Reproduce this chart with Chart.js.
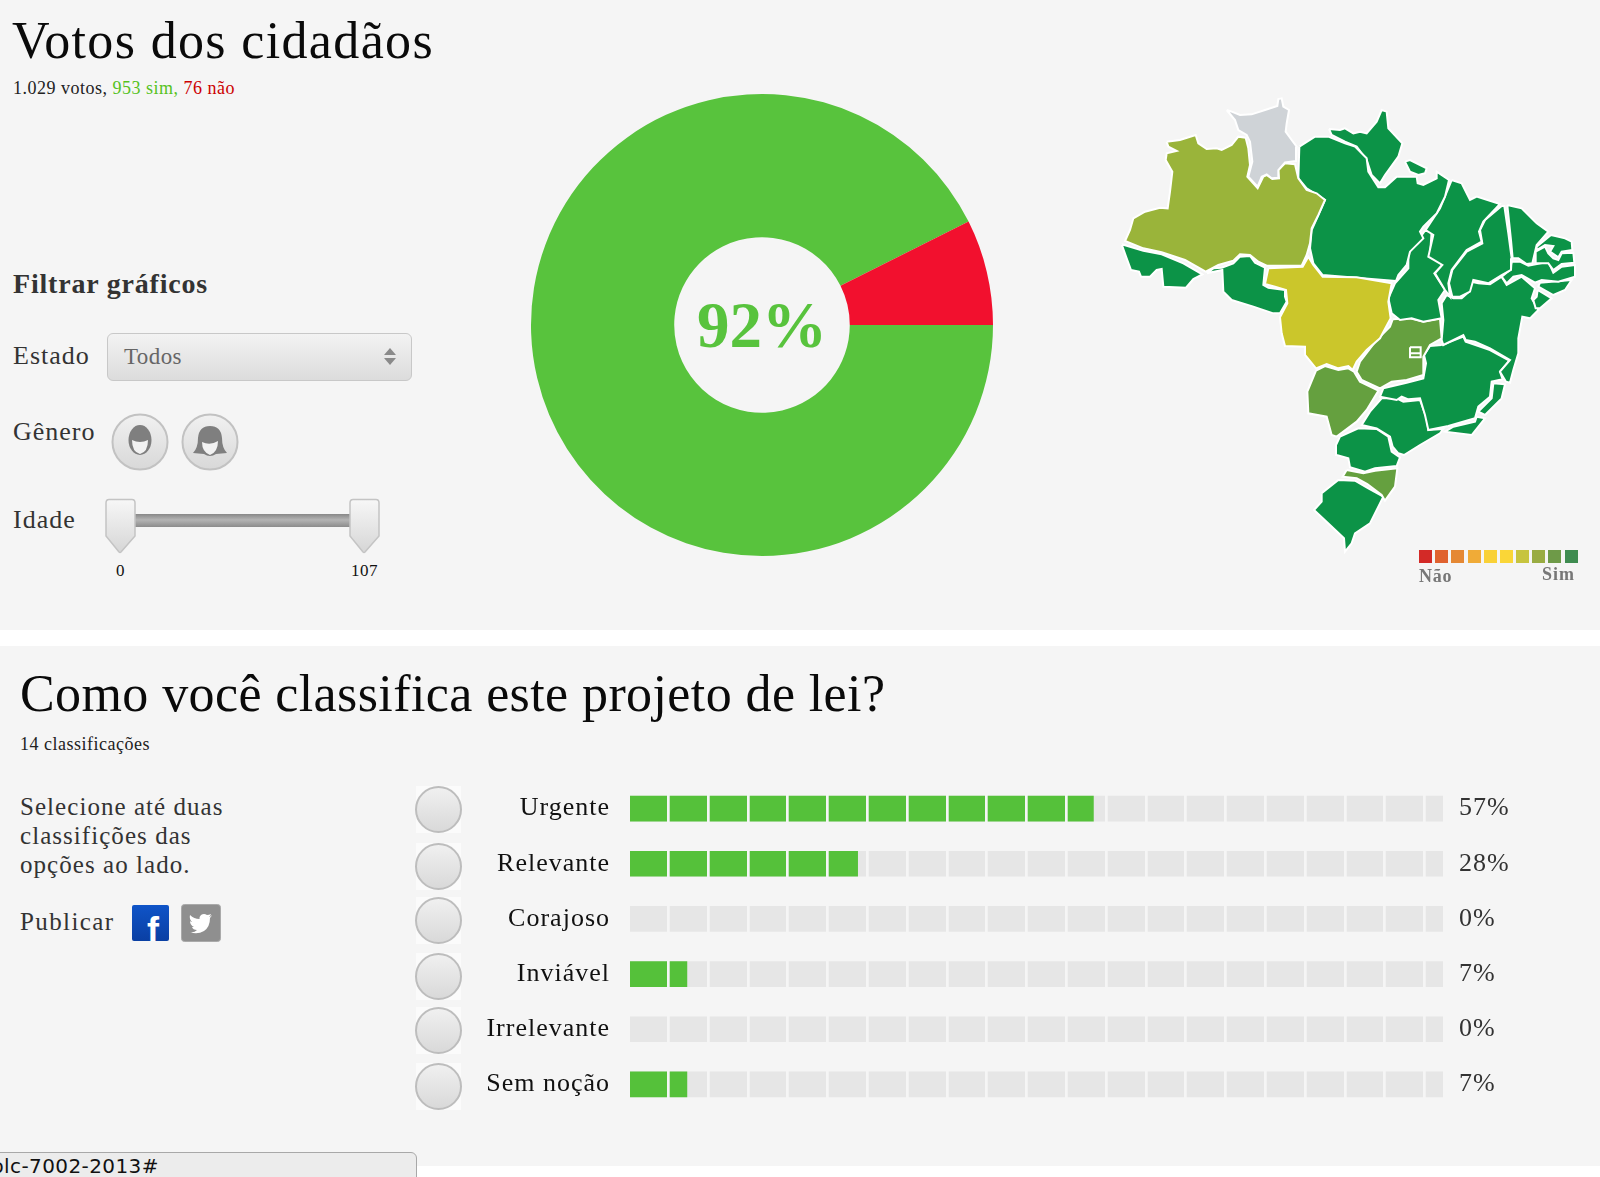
<!DOCTYPE html>
<html lang="pt">
<head>
<meta charset="utf-8">
<title>Votos dos cidadãos</title>
<script src="https://cdn.jsdelivr.net/npm/chart.js@4"></script>
<style>
  html, body { margin: 0; padding: 0; background: #fff; }
  body { width: 1600px; height: 1177px; position: relative; overflow: hidden; font-family: "Liberation Serif", serif; color: #111; }
  .panel { position: absolute; left: 0; width: 1600px; background: #f5f5f5; }
  .t { position: absolute; line-height: 1; white-space: nowrap; }
  canvas { position: absolute; }
  .radio-box { position: absolute; left: 416px; width: 45px; height: 47px; background: #fbfbfb; }
  .radio { position: absolute; left: 415px; width: 43px; height: 43px; border-radius: 50%; border: 2px solid #bdbdbd; background: linear-gradient(#f0f0f0, #d9d9d9); }
  .swatch { position: absolute; top: 550px; width: 13px; height: 13px; }
</style>
</head>
<body>
<div class="panel" style="top:0;height:630px"></div>
<div class="panel" style="top:646px;height:520px"></div>

<div class="t" style="left:12px;top:15px;font-size:52px;letter-spacing:1.35px;color:#0a0a0a">Votos dos cidadãos</div>
<div class="t" style="left:13px;top:79px;font-size:18px;letter-spacing:.5px;color:#222">1.029 votos, <span style="color:#55c21d">953 sim,</span> <span style="color:#cc0000">76 não</span></div>

<div class="t" style="left:13px;top:270px;font-size:28px;font-weight:bold;letter-spacing:.8px;color:#333">Filtrar gráficos</div>

<div class="t" style="left:13px;top:343px;font-size:26px;letter-spacing:1px;color:#333">Estado</div>
<div style="position:absolute;left:107px;top:333px;width:303px;height:46px;border:1px solid #c8c8c8;border-radius:6px;background:linear-gradient(#f3f3f3,#dcdcdc)"></div>
<div class="t" style="left:124px;top:345px;font-size:23px;letter-spacing:.4px;color:#666">Todos</div>
<div style="position:absolute;left:384px;top:348px;border:6px solid transparent;border-top:0;border-bottom:7px solid #8a8a8a"></div>
<div style="position:absolute;left:384px;top:358px;border:6px solid transparent;border-bottom:0;border-top:7px solid #8a8a8a"></div>

<div class="t" style="left:13px;top:419px;font-size:26px;letter-spacing:1px;color:#333">Gênero</div>
<svg style="position:absolute;left:110px;top:412px" width="132" height="60" viewBox="0 0 132 60">
  <defs><linearGradient id="btn" x1="0" y1="0" x2="0" y2="1"><stop offset="0" stop-color="#f1f1f1"/><stop offset="1" stop-color="#d8d8d8"/></linearGradient></defs>
  <circle cx="30" cy="30" r="27.5" fill="url(#btn)" stroke="#c2c2c2" stroke-width="2"/>
  <circle cx="100" cy="30" r="27.5" fill="url(#btn)" stroke="#c2c2c2" stroke-width="2"/>
  <ellipse cx="30" cy="28" rx="11.500" ry="15" fill="#7f7f7f"/>
  <path d="M22 28 Q30 32 38 28 Q38 40 30 42 Q22 40 22 28Z" fill="#f2f2f2"/>
  <path d="M83 41 Q88 36 88 26 Q89 14 100 14 Q111 14 112 26 Q112 36 117 41 L106 42 Q100 46 94 42Z" fill="#7f7f7f"/>
  <path d="M92 30 Q100 34 108 29 Q108 40 100 43 Q92 40 92 30Z" fill="#f2f2f2"/>
</svg>

<div class="t" style="left:13px;top:507px;font-size:26px;letter-spacing:1px;color:#333">Idade</div>
<div style="position:absolute;left:134px;top:514px;width:218px;height:13px;background:linear-gradient(#888,#b4b4b4 45%,#8c8c8c)"></div>
<svg style="position:absolute;left:104px;top:498px" width="280" height="57" viewBox="0 0 280 57">
  <defs><linearGradient id="hnd" x1="0" y1="0" x2="0" y2="1"><stop offset="0" stop-color="#f7f7f7"/><stop offset="1" stop-color="#d6d6d6"/></linearGradient></defs>
  <path d="M5 1.5 H28 Q31 1.5 31 5 V38 L17 54 Q16 55 15 54 L2 38 V5 Q2 1.5 5 1.5Z" fill="url(#hnd)" stroke="#c4c4c4" stroke-width="1.5"/>
  <path d="M249 1.5 H272 Q275 1.5 275 5 V38 L261 54 Q260 55 259 54 L246 38 V5 Q246 1.5 249 1.5Z" fill="url(#hnd)" stroke="#c4c4c4" stroke-width="1.5"/>
</svg>
<div class="t" style="left:116px;top:562px;font-size:17px;letter-spacing:.5px;color:#111">0</div>
<div class="t" style="left:351px;top:562px;font-size:17px;letter-spacing:.5px;color:#111">107</div>

<div class="t" style="left:20px;top:668px;font-size:52px;letter-spacing:.4px;color:#0a0a0a">Como você classifica este projeto de lei?</div>
<div class="t" style="left:20px;top:735px;font-size:18px;letter-spacing:.5px;color:#222">14 classificações</div>
<div class="t" style="left:20px;top:794px;font-size:25px;letter-spacing:1.05px;color:#333">Selecione até duas</div>
<div class="t" style="left:20px;top:823px;font-size:25px;letter-spacing:1.05px;color:#333">classifições das</div>
<div class="t" style="left:20px;top:852px;font-size:25px;letter-spacing:1.05px;color:#333">opções ao lado.</div>
<div class="t" style="left:20px;top:909px;font-size:25px;letter-spacing:1.4px;color:#333">Publicar</div>
<div style="position:absolute;left:132px;top:905px;width:37px;height:36px;border-radius:2px;background:linear-gradient(#0f54c8,#0a3fa3);overflow:hidden">
  <div class="t" style="left:15px;top:8px;font-family:'Liberation Sans',sans-serif;font-size:36px;font-weight:bold;color:#fff">f</div>
</div>
<svg style="position:absolute;left:181px;top:904px" width="40" height="38" viewBox="0 0 40 38">
  <rect x=".5" y=".5" width="39" height="37" rx="3" fill="#8f8f8f" stroke="#aaa"/>
  <path d="M31 11 Q29 13 28 13 Q30 11 30 10 Q28 11 26 11 Q23 9 20 11 Q18 13 18.500 15 Q13 15 9 11 Q8 15 11 18 Q10 18 9 17 Q9 21 13 23 L11 23 Q12 26 16 26 Q13 29 9 28 Q16 31 23 27 Q29 23 29 14 Q30 13 31 11Z" fill="#fff"/>
</svg>

<div id="radios"></div>
<canvas id="pieCanvas"></canvas>
<canvas id="mapCanvas"></canvas>
<canvas id="barCanvas"></canvas>
<div id="mapLegend"></div>
<div class="t" style="left:1419px;top:567px;font-size:18px;font-weight:bold;letter-spacing:.8px;color:#777">Não</div>
<div class="t" style="left:1542px;top:565px;font-size:18px;font-weight:bold;letter-spacing:1px;color:#777">Sim</div>

<div style="position:absolute;left:-11px;top:1152px;width:426px;height:40px;border:1px solid #a8a8a8;border-radius:6px;background:#ececec;overflow:hidden">
  <div class="t" style="left:1px;top:3px;font-family:'DejaVu Sans',sans-serif;font-size:20px;letter-spacing:.4px;color:#111">plc-7002-2013#</div>
</div>

<script>
// votos
const voteLabels = ["Sim", "Não"];
const voteValues = [953, 76];
const voteColors = ["#58c33d", "#f2102e"];
const centerText = "92%";

// classificacoes
const classLabels = ["Urgente", "Relevante", "Corajoso", "Inviável", "Irrelevante", "Sem noção"];
const classValues = [57, 28, 0, 7, 0, 7];
const trackValues = [100, 100, 100, 100, 100, 100];
const radioCenters = [809, 866, 920, 976, 1030, 1086];

// mapa: contornos dos estados
const scale10 = ["#d32a27", "#e0622f", "#e58834", "#f0ab37", "#f9d137", "#fad637", "#c7c43e", "#99ac42", "#6e9a48", "#3f8c50"];
const strong = "#0c9347", olive = "#9ab43a", midGreen = "#65a03f", yellow = "#cbc62b", noData = "#cfd3d7";

const df = [[930,802],[962,802],[962,820],[930,820],[930,832],[962,832],[962,820],[930,820]];
const roraima = [[380,90],[395,95],[420,105],[455,103],[495,90],[532,78],[535,57],[545,55],[550,80],[567,90],[560,130],[557,155],[575,180],[590,200],[588,243],[555,247],[535,270],[535,293],[515,295],[500,283],[485,290],[473,320],[445,290],[457,245],[450,185],[440,165],[415,150],[405,120]];
const amazonas = [[200,185],[240,180],[287,165],[295,190],[320,207],[350,205],[365,210],[395,195],[415,170],[437,173],[445,205],[450,255],[442,290],[473,325],[490,290],[500,285],[517,297],[537,295],[535,270],[555,250],[585,253],[595,295],[620,330],[650,340],[675,360],[655,405],[635,445],[630,490],[620,525],[605,557],[500,557],[475,545],[450,525],[420,523],[400,542],[355,555],[317,575],[255,540],[185,517],[130,505],[75,483],[90,450],[100,415],[135,395],[180,383],[203,385],[210,335],[217,275],[197,240],[200,220],[230,213],[205,200]];
const acre = [[65,493],[130,512],[185,523],[250,550],[307,583],[280,597],[258,623],[190,620],[185,567],[170,570],[150,590],[123,590],[117,575],[93,570],[80,535]];
const rondonia = [[320,580],[340,565],[365,563],[400,550],[420,530],[450,528],[465,548],[495,563],[490,615],[505,623],[555,630],[555,650],[560,665],[540,700],[520,700],[460,680],[395,660],[370,635],[367,570]];
const matoGrosso = [[505,565],[608,560],[625,530],[640,555],[668,590],[770,592],[875,610],[865,665],[872,715],[840,775],[800,810],[770,845],[758,870],[745,858],[715,865],[680,852],[648,865],[615,825],[615,800],[555,798],[545,760],[540,712],[562,670],[558,630],[525,620],[495,612]];
const para = [[598,200],[645,170],[685,170],[735,190],[765,200],[800,235],[805,275],[835,322],[855,322],[890,290],[950,290],[953,310],[970,315],[1010,295],[1010,275],[1047,300],[1035,350],[1010,400],[970,440],[960,455],[970,475],[930,515],[920,555],[895,585],[888,603],[668,585],[640,550],[630,505],[635,450],[675,360],[620,325],[595,295]];
const amapa = [[687,147],[720,150],[735,145],[760,160],[780,155],[800,160],[830,125],[845,90],[860,95],[865,145],[907,190],[895,230],[855,285],[840,310],[815,285],[800,240],[770,200],[735,185],[695,165]];
const marajo = [[915,245],[930,240],[980,265],[975,280],[955,285],[930,275]];
const maranhao = [[1055,300],[1085,310],[1100,340],[1110,360],[1130,350],[1200,372],[1150,425],[1137,455],[1145,485],[1100,510],[1055,570],[1045,610],[1050,650],[1035,630],[1005,580],[1027,555],[985,530],[1000,465],[977,450],[1020,385]];
const piaui = [[1205,378],[1213,378],[1225,460],[1235,535],[1233,570],[1205,585],[1165,610],[1120,600],[1110,635],[1080,650],[1057,650],[1047,610],[1057,570],[1100,515],[1147,490],[1140,450],[1155,420]];
const ceara = [[1222,375],[1265,385],[1310,430],[1345,455],[1310,495],[1297,550],[1280,552],[1255,535],[1238,535],[1233,480]];
const rioGrandeNorte = [[1353,465],[1395,475],[1415,485],[1417,510],[1385,515],[1375,532],[1350,515],[1360,498],[1335,495],[1310,510],[1310,500]];
const paraiba = [[1307,515],[1335,500],[1345,520],[1360,535],[1375,540],[1385,520],[1420,518],[1423,548],[1385,552],[1360,570],[1345,550],[1305,550]];
const pernambuco = [[1235,545],[1260,545],[1285,557],[1345,545],[1360,578],[1385,560],[1425,555],[1425,590],[1375,605],[1325,600],[1305,608],[1265,585],[1240,590],[1220,610],[1205,590],[1230,570]];
const alagoas = [[1320,608],[1415,600],[1395,630],[1360,645],[1315,620]];
const sergipe = [[1313,630],[1355,655],[1320,685],[1307,685],[1300,660],[1310,650]];
const bahia = [[1040,645],[1060,655],[1085,655],[1107,635],[1115,605],[1135,610],[1170,613],[1205,590],[1220,615],[1265,590],[1305,625],[1295,655],[1315,690],[1290,715],[1267,710],[1255,775],[1255,820],[1240,870],[1230,908],[1218,905],[1200,875],[1230,840],[1170,805],[1125,785],[1097,780],[1090,765],[1030,795],[1025,780],[1030,720],[1025,670]];
const tocantins = [[975,452],[995,455],[990,525],[1030,552],[1003,580],[1035,630],[1015,660],[1025,715],[970,725],[935,715],[900,720],[875,700],[865,655],[885,610],[925,565],[925,520]];
const goias = [[878,718],[930,715],[970,725],[1020,715],[1025,775],[990,795],[970,830],[970,885],[920,900],[875,905],[840,925],[785,900],[770,875],[780,845],[830,780],[870,740]];
const matoGrossoSul = [[648,872],[675,858],[715,870],[745,865],[762,875],[780,905],[835,932],[800,990],[770,1025],[710,1070],[695,1065],[680,1010],[625,1000],[622,935]];
const minas = [[1025,795],[1090,770],[1097,785],[1170,810],[1228,842],[1200,875],[1208,898],[1175,905],[1170,950],[1135,980],[1125,1015],[1045,1038],[985,1050],[975,1005],[960,955],[925,958],[905,950],[890,960],[840,950],[850,925],[920,908],[970,895],[978,850],[972,825],[990,798]];
const espiritoSanto = [[1180,910],[1215,913],[1205,955],[1155,1005],[1135,995],[1175,955]];
const rio = [[1130,1010],[1155,1015],[1115,1065],[1035,1055],[1060,1040],[1125,1025]];
const saoPaulo = [[845,955],[890,955],[910,965],[960,960],[980,1015],[985,1050],[1030,1047],[1020,1060],[960,1095],[912,1125],[895,1120],[878,1100],[870,1070],[830,1045],[785,1035],[810,995]];
const parana = [[720,1070],[775,1045],[830,1047],[865,1070],[875,1115],[900,1132],[890,1158],[825,1165],[795,1175],[750,1162],[745,1135],[710,1125],[708,1095]];
const santaCatarina = [[740,1170],[790,1180],[825,1172],[892,1165],[885,1220],[855,1262],[845,1245],[802,1212],[770,1195],[728,1190]];
const rioGrandeSul = [[665,1240],[715,1200],[765,1202],[805,1225],[850,1250],[835,1280],[810,1330],[765,1360],[755,1390],[735,1415],[732,1375],[690,1335],[642,1290],[665,1265]];

const mapStates = [
  [df, midGreen], [roraima, noData], [amazonas, olive], [acre, strong], [rondonia, strong],
  [matoGrosso, yellow], [para, strong], [amapa, strong], [marajo, strong], [maranhao, strong],
  [piaui, strong], [ceara, strong], [rioGrandeNorte, strong], [paraiba, strong], [pernambuco, strong],
  [alagoas, strong], [sergipe, strong], [bahia, strong], [tocantins, strong], [goias, midGreen],
  [matoGrossoSul, midGreen], [minas, strong], [espiritoSanto, strong], [rio, strong], [saoPaulo, strong],
  [parana, strong], [santaCatarina, midGreen], [rioGrandeSul, strong]
];

function sizeCanvas(id, left, top, w, h) {
  const c = document.getElementById(id);
  c.style.left = left + "px";
  c.style.top = top + "px";
  c.width = w;
  c.height = h;
  return c;
}

const centerLabel = {
  id: "centerLabel",
  afterDraw(chart) {
    const arc = chart.getDatasetMeta(0).data[0];
    const ctx = chart.ctx;
    ctx.save();
    ctx.font = "bold 65px 'Liberation Serif'";
    ctx.fillStyle = voteColors[0];
    ctx.textAlign = "center";
    ctx.textBaseline = "alphabetic";
    ctx.fillText(centerText, arc.x, arc.y + 22);
    ctx.restore();
  }
};

new Chart(sizeCanvas("pieCanvas", 522, 85, 480, 480), {
  type: "doughnut",
  data: {
    labels: voteLabels,
    datasets: [{ data: voteValues, backgroundColor: voteColors, borderWidth: 0 }]
  },
  options: {
    responsive: false,
    animation: false,
    rotation: 90,
    radius: 231,
    cutout: "38%",
    plugins: { legend: { display: false }, tooltip: { enabled: false } }
  },
  plugins: [centerLabel]
});

new Chart(sizeCanvas("mapCanvas", 1100, 80, 500, 530), {
  type: "scatter",
  data: {
    datasets: mapStates.map(([outline, color]) => ({
      data: outline.concat([outline[0]]).map(([x, y]) => ({ x, y })),
      showLine: true,
      tension: 0,
      fill: "shape",
      backgroundColor: color,
      borderColor: "#ffffff",
      borderWidth: 2,
      pointRadius: 0
    }))
  },
  options: {
    responsive: false,
    animation: false,
    layout: { padding: 0 },
    scales: {
      x: { type: "linear", min: 0, max: 1500, display: false },
      y: { type: "linear", min: 0, max: 1590, reverse: true, display: false }
    },
    plugins: { legend: { display: false }, tooltip: { enabled: false } }
  }
});

// grid lines on top of the bars cut them into blocks
const blockGaps = [];
for (let v = 4.72; v < 100; v += 4.895) blockGaps.push(v);

const labelSpacing = {
  id: "labelSpacing",
  beforeDraw(chart) { chart.ctx.letterSpacing = "1px"; }
};

function fixSideAxis(axis, width) {
  axis.width = width;
  axis.paddingTop = 0;
  axis.paddingBottom = 0;
}

new Chart(sizeCanvas("barCanvas", 470, 781, 1130, 331), {
  type: "bar",
  data: {
    labels: classLabels,
    datasets: [
      {
        data: classValues,
        backgroundColor: ctx => ctx.raw > 0 ? "#55c13a" : "transparent",
        grouped: false,
        barThickness: 25
      },
      { data: trackValues, backgroundColor: "#e6e6e6", grouped: false, barThickness: 25 }
    ]
  },
  options: {
    indexAxis: "y",
    responsive: false,
    animation: false,
    layout: { padding: 0 },
    scales: {
      x: {
        type: "linear",
        min: 0,
        max: 100,
        afterBuildTicks(axis) { axis.ticks = blockGaps.map(value => ({ value })); },
        ticks: { display: false },
        border: { display: false },
        grid: { z: 1, color: "#f5f5f5", lineWidth: 2.7, drawTicks: false }
      },
      y: {
        afterFit(axis) { fixSideAxis(axis, 160); },
        ticks: { padding: 20, color: "#111", font: { family: "'Liberation Serif'", size: 26 } },
        border: { display: false },
        grid: { display: false, drawTicks: false }
      },
      y2: {
        type: "category",
        position: "right",
        labels: classValues.map(v => v + "%"),
        offset: true,
        afterFit(axis) { fixSideAxis(axis, 157); },
        ticks: { padding: 16, color: "#333", font: { family: "'Liberation Serif'", size: 26 } },
        border: { display: false },
        grid: { display: false, drawTicks: false }
      }
    },
    plugins: { legend: { display: false }, tooltip: { enabled: false } }
  },
  plugins: [labelSpacing]
});

const radios = document.getElementById("radios");
radioCenters.forEach(c => {
  radios.insertAdjacentHTML("beforeend",
    `<div class="radio-box" style="top:${c - 23}px"></div><div class="radio" style="top:${c - 23}px"></div>`);
});

const mapLegend = document.getElementById("mapLegend");
scale10.forEach((color, i) => {
  mapLegend.insertAdjacentHTML("beforeend",
    `<div class="swatch" style="left:${1419 + i * 16.17}px;background:${color}"></div>`);
});
</script>
</body>
</html>
